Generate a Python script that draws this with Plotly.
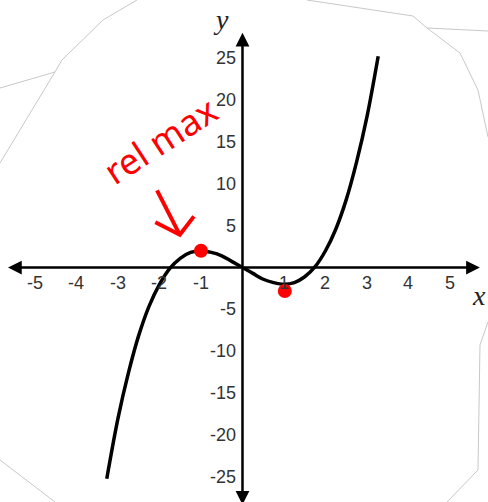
import plotly.graph_objects as go

# Curve samples (x, y) of the cubic
curve_x = [-3.27, -3.0, -2.75, -2.5, -2.25, -2.0, -1.75, -1.5, -1.25, -1.0,
           -0.75, -0.5, -0.25, 0.0, 0.25, 0.5, 0.75, 1.0, 1.25, 1.5,
           1.75, 2.0, 2.25, 2.5, 2.75, 3.0, 3.27]
curve_y = [-25.2, -18.0, -12.6, -8.1, -4.6, -2.0, -0.1, 1.1, 1.8, 2.0,
           1.8, 1.4, 0.7, 0.0, -0.7, -1.4, -1.8, -2.0, -1.8, -1.1,
           0.1, 2.0, 4.6, 8.1, 12.6, 18.0, 25.2]

# Hand-marked extrema dots
dot_x = [-1.0, 1.02]
dot_y = [2.0, -2.8]

# Tick labels
x_ticks = [-5, -4, -3, -2, -1, 1, 2, 3, 4, 5]
y_ticks = [25, 20, 15, 10, 5, -5, -10, -15, -20, -25]

X_RANGE = [-5.843, 5.916]
Y_RANGE = [-27.98, 31.92]

fig = go.Figure()

# faint scanned-page outline strokes (paper pixel coords, converted below)
W, H = 488, 502
outline_paths = [
    [(0, 88), (55, 72), (62, 60), (103, 20), (137, 0)],
    [(55, 72), (0, 163)],
    [(307, 0), (413, 16), (427, 28), (460, 53), (478, 90), (488, 137)],
    [(427, 28), (448, 29), (488, 31)],
    [(488, 322), (480, 345), (478, 470), (447, 502)],
    [(0, 460), (55, 502)],
]
shapes = []
for pts in outline_paths:
    d = "M " + " L ".join(f"{px / W:.4f},{1 - py / H:.4f}" for px, py in pts)
    shapes.append(dict(type="path", xref="paper", yref="paper", path=d,
                       line=dict(color="#c8c8c8", width=1)))

# hand-drawn arrow pointing at the relative maximum
shapes.append(dict(type="path", xref="x", yref="y",
                   path="M -2.06,9.2 L -1.51,3.9",
                   line=dict(color="#ff0000", width=4)))
shapes.append(dict(type="path", xref="x", yref="y",
                   path="M -2.1,5.4 L -1.51,3.9 L -1.17,6.1",
                   line=dict(color="#ff0000", width=4)))

fig.add_trace(go.Scatter(x=curve_x, y=curve_y, mode="lines",
                         line=dict(color="black", width=3.5, shape="spline"),
                         hoverinfo="skip"))
fig.add_trace(go.Scatter(x=dot_x, y=dot_y, mode="markers",
                         marker=dict(color="#ff0000", size=14, line=dict(width=0)),
                         hoverinfo="skip"))

annotations = []
# axes with arrowheads at both ends
for tip in [(-5.65, 0), (5.72, 0), (0, 28.0), (0, -28.3)]:
    annotations.append(dict(x=tip[0], y=tip[1], ax=0, ay=0, axref="x", ayref="y",
                            xref="x", yref="y", text="", showarrow=True,
                            arrowhead=2, arrowsize=1.1, arrowwidth=2.5,
                            arrowcolor="black", standoff=0))

tick_font = dict(family="Liberation Sans, Arial, sans-serif", size=18, color="#333333")
for v in x_ticks:
    annotations.append(dict(x=v, y=0, xref="x", yref="y", text=str(v),
                            showarrow=False, yanchor="middle", xanchor="center",
                            yshift=-15, font=tick_font))
for v in y_ticks:
    annotations.append(dict(x=0, y=v, xref="x", yref="y", text=str(v),
                            showarrow=False, yanchor="middle", xanchor="right",
                            xshift=-4, font=tick_font))

label_font = dict(family="Liberation Serif, Times New Roman, serif", size=28, color="#222222")
annotations.append(dict(x=221 / W, y=1 - 20 / H, xref="paper", yref="paper",
                        xanchor="center", yanchor="middle",
                        text="<i>y</i>", showarrow=False, font=label_font))
annotations.append(dict(x=1.0, y=1 - 295 / H, xref="paper", yref="paper",
                        xanchor="right", yanchor="middle",
                        text="<i>x</i>", showarrow=False, font=label_font))

annotations.append(dict(x=160 / W, y=1 - 140 / H, xref="paper", yref="paper",
                        xanchor="center", yanchor="middle",
                        text="rel max", showarrow=False, textangle=-33,
                        font=dict(family="Noto Sans, sans-serif", size=36, color="#ff0000")))

fig.update_layout(
    width=W, height=H,
    margin=dict(l=0, r=0, t=0, b=0),
    paper_bgcolor="white", plot_bgcolor="white",
    showlegend=False,
    xaxis=dict(range=X_RANGE, visible=False, fixedrange=True),
    yaxis=dict(range=Y_RANGE, visible=False, fixedrange=True),
    shapes=shapes,
    annotations=annotations,
)

fig.write_html("out.html")
